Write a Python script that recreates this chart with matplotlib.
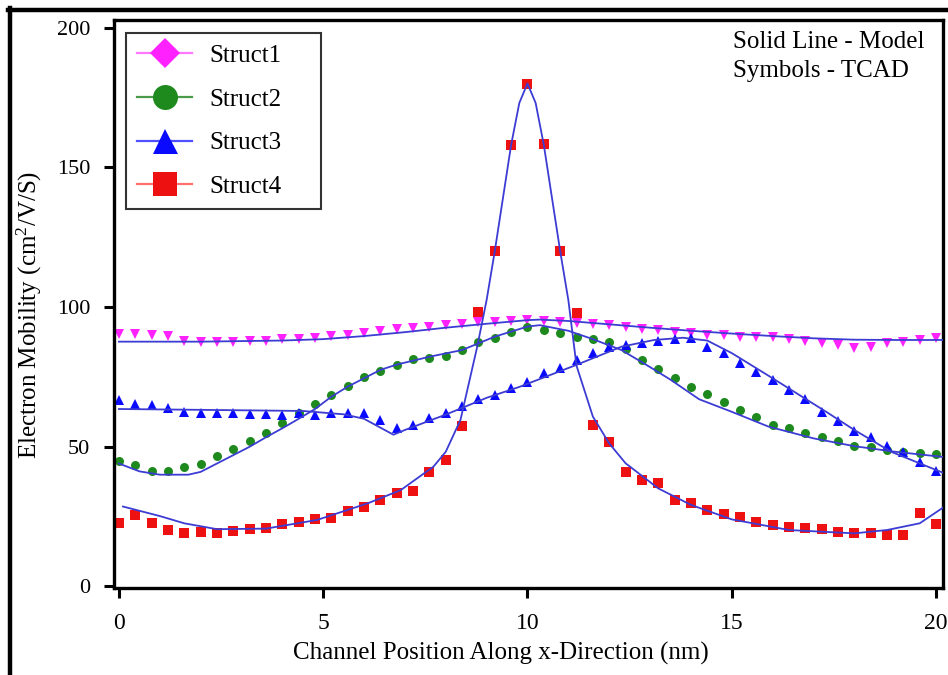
import numpy as np
import matplotlib
matplotlib.use("Agg")
import matplotlib.pyplot as plt
from matplotlib.lines import Line2D

plt.rcParams['font.family'] = ['Liberation Serif', 'DejaVu Serif']
plt.rcParams['mathtext.fontset'] = 'custom'
plt.rcParams['mathtext.rm'] = 'Liberation Serif'
plt.rcParams['mathtext.it'] = 'Liberation Serif:italic'

# ---------------- data ----------------
labels = ["Struct1", "Struct2", "Struct3", "Struct4"]

x_tcad = np.round(np.arange(0, 20.01, 0.4), 1)

s1_tcad = [90.5, 90.3, 90, 89.5, 88, 87.5, 87.5, 87.5, 88, 88, 88.5, 88.5, 89, 89.5, 90,
           90.8, 91.5, 92, 92.5, 93, 93.5, 94, 94.5, 94.8, 95,
           95.2, 95, 94.8, 94.2, 94, 93.6, 93, 92, 91.8, 91.2, 90.6, 90, 90, 89.4, 89.4,
           89.4, 88.5, 88, 87, 86.4, 85.2, 85.8, 87, 87.6, 88.2, 88.8]
s2_tcad = [45, 43.5, 41.2, 41.3, 42.9, 43.7, 46.7, 49.2, 52.2, 54.8, 58.4, 62, 65.4, 68.5,
           71.8, 74.9, 77.2, 79.3, 81.3, 81.7, 82.3, 84.6, 87.3, 88.8, 91.2, 93, 91.8, 90.6,
           89.4, 88.5, 87.6, 84.9, 81.1, 77.7, 74.5, 71.3, 68.8, 66.1, 63.2, 60.8, 57.8,
           56.6, 55, 53.6, 52.2, 50.4, 50, 49, 48.2, 47.9, 47.3]
s3_tcad = [66.7, 65.3, 65, 63.8, 62.6, 62, 62, 62, 61.7, 61.7, 61.4, 62, 61.4, 62, 62, 62,
           59.6, 56.6, 57.8, 60.2, 62, 64.4, 67, 68.5, 70.9, 73.3, 76.5, 78.1, 81.1, 83.5,
           85.8, 86.4, 87, 88, 88.5, 88.8, 85.8, 83.5, 79.9, 76.9, 73.9, 70.3, 67, 62.6,
           59.3, 55.7, 53.6, 50.4, 48.2, 44.7, 41.4]
s4_tcad = [22.6, 25.6, 22.8, 20.2, 19, 19.6, 19, 20, 20.5, 21, 22.3, 23.2, 24.2, 24.4, 27.1,
           28.6, 31, 33.4, 34.3, 41.1, 45.3, 57.4, 98.2, 120.2, 158, 179.8, 158.4, 120.2,
           97.8, 57.8, 51.8, 41.1, 38.1, 37.2, 31, 30, 27.4, 25.9, 25, 23.2, 22, 21.2, 20.8,
           20.5, 19.6, 19, 19, 18.4, 18.4, 26.2, 22.4]

s1_model_x = [0, 2, 4, 5, 6, 7, 8, 9, 10, 10.3, 11, 12, 13, 14, 15, 16, 17, 18, 19, 20.2]
s1_model_y = [87.6, 87.6, 88, 88.5, 89.6, 91, 92.6, 94, 95.3, 95.5, 95, 93.8, 92.6, 91.5,
              90.5, 89.6, 88.8, 88.3, 88.2, 88.2]

s2_model_x = [0, 0.5, 1, 1.7, 2.0, 2.4, 2.8, 3.2, 3.6, 4.0, 4.4, 4.8, 5.2, 5.6, 6.0, 6.4,
              6.8, 7.6, 8.4, 9.2, 10.0, 10.3, 11.0, 11.6, 12.3, 13.0, 13.5, 14.2, 15.0,
              15.9, 17.0, 18.0, 19.0, 20.2]
s2_model_y = [44, 41.2, 40, 40, 41, 44, 47, 50, 53.4, 56.6, 60, 63.5, 67.9, 71.5, 74.5,
              77.5, 79.4, 82.2, 84.6, 89.4, 93, 93.5, 91.5, 88.5, 84.6, 78.5, 74, 67, 62.5,
              57.2, 53, 50.2, 48.2, 46.3]

s3_model_x = [0, 2, 4.5, 5.5, 6.0, 6.72, 7.0, 8.0, 9.0, 9.8, 11.2, 12.3, 13.1, 13.8, 14.4,
              15.0, 16.0, 17.3, 18.0, 18.9, 20.2]
s3_model_y = [63.5, 63.2, 62.8, 61.6, 60, 54.3, 56, 61.5, 67.5, 71.4, 79.3, 85.8, 88.2, 89,
              88, 83.5, 74.5, 62.6, 56, 48.2, 40.5]

s4_model_x = [0.1, 1, 1.6, 2.4, 3.6, 4.85, 6.1, 6.9, 7.7, 8.0, 8.36, 8.77, 9.0, 9.2, 9.6,
              9.8, 10.0, 10.2, 10.4, 10.8, 11.0, 11.2, 11.6, 12.0, 12.4, 13.2, 14.0, 15.0,
              16.4, 18.0, 18.8, 19.6, 20.2]
s4_model_y = [28.6, 25.2, 22.6, 20.5, 20.7, 23.8, 29.8, 34.5, 42.9, 48.2, 59.6, 85.8, 102.5,
              120, 158, 173, 180, 173, 158, 120, 102.5, 79, 60.8, 51.2, 44.1, 35.1, 29.2,
              24, 20.2, 19, 20.2, 22.6, 28.5]

x_ticks = [0, 5, 10, 15, 20]
y_ticks = [0, 50, 100, 150, 200]

# ---------------- styles ----------------
marker_colors = ["#ff22ff", "#1e8a1e", "#0a0aff", "#ee1111"]
legend_line_colors = ["#ff77ff", "#4a9a4a", "#5050ff", "#ff6f6f"]
data_markers = ["v", "o", "^", "s"]
data_ms = [6.5, 6.5, 7, 7]
legend_markers = ["D", "o", "^", "s"]
legend_ms = [15, 18, 18, 17]
model_color = "#3c3cd4"

fig = plt.figure(figsize=(9.48, 6.75), dpi=100)
ax = fig.add_axes([114 / 948, 1 - 588 / 675, (943 - 114) / 948, (588 - 20) / 675])

tcad = [s1_tcad, s2_tcad, s3_tcad, s4_tcad]
models = [(s1_model_x, s1_model_y), (s2_model_x, s2_model_y),
          (s3_model_x, s3_model_y), (s4_model_x, s4_model_y)]

for i in range(4):
    ax.plot(x_tcad, tcad[i], linestyle="none", marker=data_markers[i],
            markersize=data_ms[i], color=marker_colors[i], markeredgewidth=0, zorder=2)
for i in range(4):
    ax.plot(models[i][0], models[i][1], color=model_color, linewidth=1.3, zorder=3)

ax.set_xlim(-0.12, 20.17)
ax.set_ylim(-0.55, 202.7)
ax.set_xticks(x_ticks)
ax.set_yticks(y_ticks)
ax.tick_params(axis='both', direction='out', length=7, width=2.2, labelsize=16,
               colors='black')
ax.tick_params(axis='x', pad=11, labelsize=17)
ax.tick_params(axis='y', pad=10)
for sp in ax.spines.values():
    sp.set_linewidth(2.4)

ax.set_xlabel("Channel Position Along x-Direction (nm)", fontsize=18)
ax.set_ylabel("Electron Mobility (cm$^{2}$/V/S)", fontsize=18)
ax.xaxis.set_label_coords((501 - 114) / 829, (588 - 642) / 568)
ax.yaxis.set_label_coords((44 - 114) / 829, (588 - 315) / 568)

handles = [Line2D([0], [0], color=legend_line_colors[i], linewidth=1.6,
                  marker=legend_markers[i], markersize=legend_ms[i],
                  markerfacecolor=marker_colors[i], markeredgewidth=0)
           for i in range(4)]
leg_top = (588 - 33) / 568
leg = ax.legend(handles, labels, loc='upper left',
                bbox_to_anchor=((126 - 114) / 829, leg_top - 0.3, (321 - 126) / 829, 0.3),
                mode='expand', borderaxespad=0, fontsize=18, frameon=True, fancybox=False,
                edgecolor='black', handlelength=2.2, handletextpad=0.7,
                labelspacing=0.85, borderpad=0.45)
leg.get_frame().set_linewidth(1.5)

ax.text((733 - 114) / 829, (588 - 31) / 568, "Solid Line - Model\nSymbols - TCAD",
        transform=ax.transAxes, ha='left', va='top', fontsize=18, linespacing=1.42)

# outer image frame (left and top edges)
fig.add_artist(Line2D([10 / 948, 10 / 948], [0, 1 - 8 / 675], transform=fig.transFigure,
                      color='black', linewidth=3.2))
fig.add_artist(Line2D([8 / 948, 1], [1 - 10 / 675, 1 - 10 / 675], transform=fig.transFigure,
                      color='black', linewidth=3.2))

fig.savefig("out.png", dpi=100)
